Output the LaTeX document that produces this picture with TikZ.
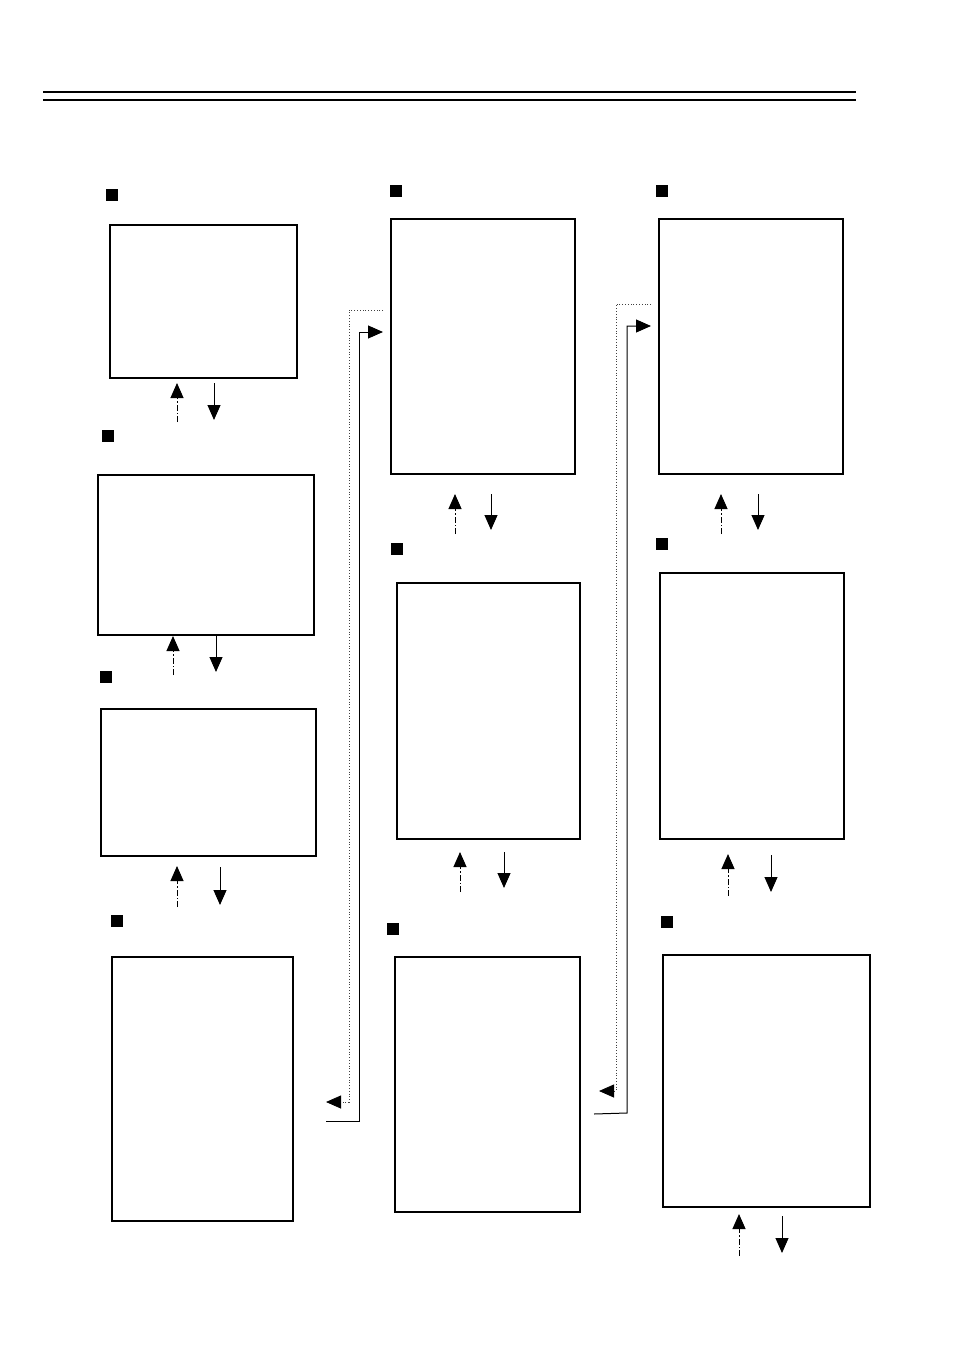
\documentclass[tikz,border=0pt]{standalone}
\usetikzlibrary{arrows.meta}
\begin{document}
\begin{tikzpicture}[x=1pt,y=-1pt,
  panel/.style={draw,line width=2.2pt,inner sep=0,outer sep=0,fill=white},
  marker/.style={fill=black,inner sep=0,minimum size=12pt,outer sep=0},
  tipx/.style={-{Triangle[length=15pt,width=13pt,color=black]}},
  downarr/.style={tipx,line width=1pt},
  uparr/.style={tipx,line width=1pt,dash pattern=on 6pt off 2pt on 1.5pt off 2pt},
  dotconn/.style={tipx,line width=0.8pt,dotted,black!75},
  solconn/.style={tipx,line width=1pt}]
\useasboundingbox (0,0) rectangle (954,1348);
% header rules
\coordinate (r1a) at (43,92); \coordinate (r1b) at (856,92);
\coordinate (r2a) at (43,100); \coordinate (r2b) at (856,100);
\draw[line width=2pt] (r1a) -- (r1b);
\draw[line width=2pt] (r2a) -- (r2b);
% column 1
\node[marker] (mA) at (112,195) {};
\node[panel,minimum width=187pt,minimum height=153pt] (A) at (203.5,301.5) {};
\node[marker] (mB) at (108,436) {};
\node[panel,minimum width=216pt,minimum height=160pt] (B) at (206,555) {};
\node[marker] (mC) at (106,677) {};
\node[panel,minimum width=215pt,minimum height=147pt] (C) at (208.5,782.5) {};
\node[marker] (mD) at (117,921) {};
\node[panel,minimum width=181pt,minimum height=264pt] (D) at (202.5,1089) {};
% column 2
\node[marker] (mE) at (396,191) {};
\node[panel,minimum width=184pt,minimum height=255pt] (E) at (483,346.5) {};
\node[marker] (mF) at (397,549) {};
\node[panel,minimum width=183pt,minimum height=256pt] (F) at (488.5,711) {};
\node[marker] (mG) at (393,929) {};
\node[panel,minimum width=185pt,minimum height=255pt] (G) at (487.5,1084.5) {};
% column 3
\node[marker] (mH) at (662,191) {};
\node[panel,minimum width=184pt,minimum height=255pt] (H) at (751,346.5) {};
\node[marker] (mI) at (662,544) {};
\node[panel,minimum width=184pt,minimum height=266pt] (I) at (752,706) {};
\node[marker] (mJ) at (667,922) {};
\node[panel,minimum width=207pt,minimum height=252pt] (J) at (766.5,1081) {};
% up/down arrow pairs
\coordinate (a1) at (177,422); \coordinate (a2) at (177,383);
\coordinate (a3) at (214,383); \coordinate (a4) at (214,420);
\draw[uparr] (a1) -- (a2); \draw[downarr] (a3) -- (a4);
\coordinate (b1) at (173,675); \coordinate (b2) at (173,636);
\coordinate (b3) at (216,636); \coordinate (b4) at (216,672);
\draw[uparr] (b1) -- (b2); \draw[downarr] (b3) -- (b4);
\coordinate (c1) at (177,907); \coordinate (c2) at (177,866);
\coordinate (c3) at (220,867); \coordinate (c4) at (220,905);
\draw[uparr] (c1) -- (c2); \draw[downarr] (c3) -- (c4);
\coordinate (e1) at (455,534); \coordinate (e2) at (455,494);
\coordinate (e3) at (491,494); \coordinate (e4) at (491,530);
\draw[uparr] (e1) -- (e2); \draw[downarr] (e3) -- (e4);
\coordinate (f1) at (460,892); \coordinate (f2) at (460,852);
\coordinate (f3) at (504,852); \coordinate (f4) at (504,888);
\draw[uparr] (f1) -- (f2); \draw[downarr] (f3) -- (f4);
\coordinate (h1) at (721,534); \coordinate (h2) at (721,494);
\coordinate (h3) at (758,494); \coordinate (h4) at (758,530);
\draw[uparr] (h1) -- (h2); \draw[downarr] (h3) -- (h4);
\coordinate (i1) at (728,896); \coordinate (i2) at (728,854);
\coordinate (i3) at (771,855); \coordinate (i4) at (771,892);
\draw[uparr] (i1) -- (i2); \draw[downarr] (i3) -- (i4);
\coordinate (j1) at (739,1256); \coordinate (j2) at (739,1214);
\coordinate (j3) at (782,1216); \coordinate (j4) at (782,1253);
\draw[uparr] (j1) -- (j2); \draw[downarr] (j3) -- (j4);
% connectors column 1 <-> column 2
\coordinate (p1) at (383,310); \coordinate (p2) at (326,1102);
\draw[dotconn] (p1) -- (349,310) -- (349,1102) -- (p2);
\coordinate (q1) at (326,1121); \coordinate (q2) at (383,332);
\draw[solconn] (q1) -- (359,1121) -- (359,332) -- (q2);
% connectors column 2 <-> column 3
\coordinate (s1) at (651,304); \coordinate (s2) at (599,1091);
\draw[dotconn] (s1) -- (616,304) -- (616,1091) -- (s2);
\coordinate (t1) at (594,1114); \coordinate (t2) at (651,326);
\draw[solconn] (t1) -- (627,1113) -- (627,326) -- (t2);
\end{tikzpicture}
\end{document}
